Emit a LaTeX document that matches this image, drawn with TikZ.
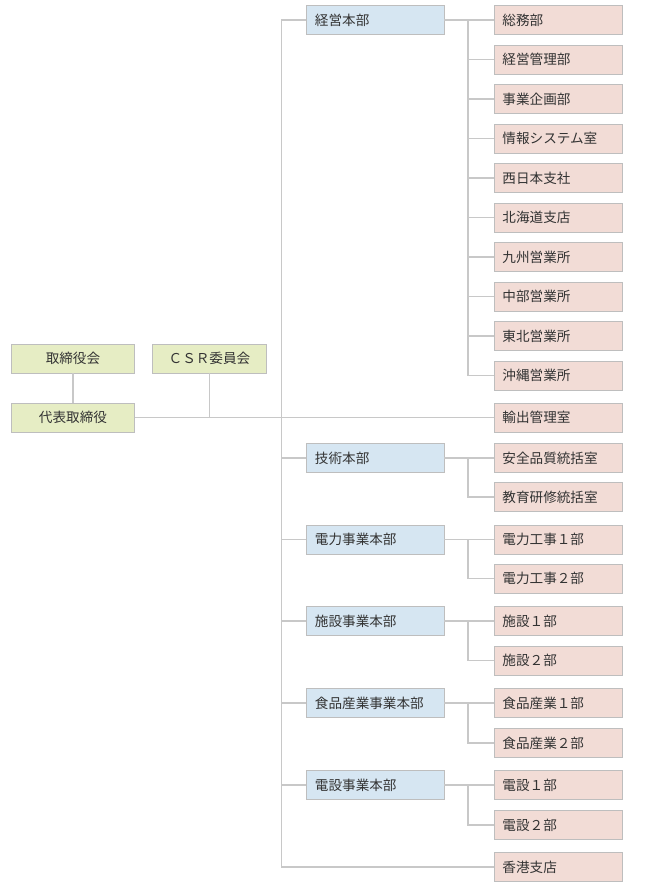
\documentclass[tikz,border=0pt]{standalone}
\usepackage{fontspec}
\setmainfont{Noto Sans CJK JP}
\definecolor{grnfill}{RGB}{230,237,196}
\definecolor{blufill}{RGB}{214,230,242}
\definecolor{pnkfill}{RGB}{242,220,214}
\definecolor{boxline}{RGB}{190,190,190}
\definecolor{lnc}{RGB}{200,200,200}
\definecolor{txt}{RGB}{51,51,51}
\begin{document}
\begin{tikzpicture}[x=1pt,y=-1pt,
  box/.style={draw=boxline, line width=0.9pt, minimum height=29pt, inner sep=0pt,
    font=\fontsize{13.6}{15}\selectfont, text=txt, anchor=north west},
  grn/.style={box, fill=grnfill, minimum width=123pt, align=center},
  blu/.style={box, fill=blufill, minimum width=137.5pt, text width=120.5pt, inner xsep=8.5pt, align=left},
  pnk/.style={box, fill=pnkfill, minimum width=128pt, text width=112pt, inner xsep=8pt, align=left},
  ln/.style={draw=lnc, line width=1.2pt}]
\useasboundingbox (0,0) rectangle (650,884);

\coordinate (trunk) at (281.5,0);
\coordinate (br) at (468,0);

% left group
\node[grn] (torishimari) at (11,343.5) {取締役会};
\node[grn] (daihyo) at (11,402.5) {代表取締役};
\node[grn, minimum width=114pt] (csr) at (152,343.5) {ＣＳＲ委員会};

% headquarters (blue)
\node[blu] (keiei) at (306,5) {経営本部};
\node[blu] (gijutsu) at (306,443) {技術本部};
\node[blu] (denryoku) at (306,524.5) {電力事業本部};
\node[blu] (shisetsu) at (306,606) {施設事業本部};
\node[blu] (shokuhin) at (306,688) {食品産業事業本部};
\node[blu] (densetsu) at (306,770) {電設事業本部};

% departments (pink)
\node[pnk] (soumu) at (494,5) {総務部};
\node[pnk] (kanri) at (494,44.5) {経営管理部};
\node[pnk] (kikaku) at (494,84) {事業企画部};
\node[pnk] (joho) at (494,123.5) {情報システム室};
\node[pnk] (nishinihon) at (494,163) {西日本支社};
\node[pnk] (hokkaido) at (494,202.5) {北海道支店};
\node[pnk] (kyushu) at (494,242) {九州営業所};
\node[pnk] (chubu) at (494,281.5) {中部営業所};
\node[pnk] (tohoku) at (494,321) {東北営業所};
\node[pnk] (okinawa) at (494,360.5) {沖縄営業所};
\node[pnk] (yushutsu) at (494,402.5) {輸出管理室};
\node[pnk] (anzen) at (494,443) {安全品質統括室};
\node[pnk] (kyoiku) at (494,482) {教育研修統括室};
\node[pnk] (koji1) at (494,524.5) {電力工事１部};
\node[pnk] (koji2) at (494,563.5) {電力工事２部};
\node[pnk] (shisetsu1) at (494,606) {施設１部};
\node[pnk] (shisetsu2) at (494,645.5) {施設２部};
\node[pnk] (shokuhin1) at (494,688) {食品産業１部};
\node[pnk] (shokuhin2) at (494,728) {食品産業２部};
\node[pnk] (densetsu1) at (494,770) {電設１部};
\node[pnk] (densetsu2) at (494,810) {電設２部};
\node[pnk] (hongkong) at (494,852) {香港支店};

% left connectors
\draw[ln] (torishimari) -- (daihyo);
\draw[ln] (csr.south) -- (csr.south |- daihyo.east);
\draw[ln] (daihyo.east) -- (yushutsu.west);

% trunk
\draw[ln] (keiei.west) -- (keiei.west -| trunk) -- (hongkong.west -| trunk) -- (hongkong.west);
\foreach \b in {gijutsu,denryoku,shisetsu,shokuhin,densetsu}
  \draw[ln] (\b.west -| trunk) -- (\b.west);

% branches
\draw[ln] (keiei.east) -- (soumu.west);
\draw[ln] (keiei.east -| br) -- (okinawa.west -| br) -- (okinawa.west);
\foreach \c in {kanri,kikaku,joho,nishinihon,hokkaido,kyushu,chubu,tohoku}
  \draw[ln] (\c.west -| br) -- (\c.west);

\draw[ln] (gijutsu.east) -- (anzen.west);
\draw[ln] (gijutsu.east -| br) -- (kyoiku.west -| br) -- (kyoiku.west);
\draw[ln] (denryoku.east) -- (koji1.west);
\draw[ln] (denryoku.east -| br) -- (koji2.west -| br) -- (koji2.west);
\draw[ln] (shisetsu.east) -- (shisetsu1.west);
\draw[ln] (shisetsu.east -| br) -- (shisetsu2.west -| br) -- (shisetsu2.west);
\draw[ln] (shokuhin.east) -- (shokuhin1.west);
\draw[ln] (shokuhin.east -| br) -- (shokuhin2.west -| br) -- (shokuhin2.west);
\draw[ln] (densetsu.east) -- (densetsu1.west);
\draw[ln] (densetsu.east -| br) -- (densetsu2.west -| br) -- (densetsu2.west);
\end{tikzpicture}
\end{document}
